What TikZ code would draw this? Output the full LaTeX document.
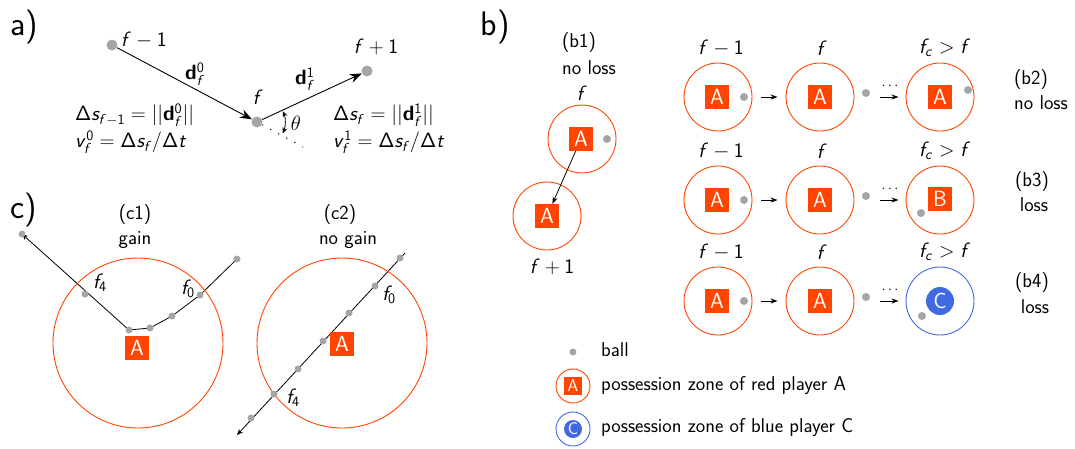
\documentclass[tikz,border=0pt]{standalone}
\usetikzlibrary{arrows.meta,backgrounds}
\DeclareMathAlphabet{\mathsfsl}{OT1}{cmss}{m}{sl}
\DeclareMathAlphabet{\mathsfbx}{OT1}{cmss}{bx}{n}
\DeclareMathAlphabet{\mathsfup}{OT1}{cmss}{m}{n}
\newcommand{\ff}{\mathsfsl{f}}
\newcommand{\nm}[1]{\mathsfup{#1}}
\definecolor{pred}{RGB}{255,69,0}
\definecolor{pblue}{RGB}{65,105,225}
\definecolor{ballgray}{RGB}{165,165,165}
\begin{document}
\begin{tikzpicture}[x=1pt,y=-1pt,
  every node/.style={font=\sffamily\fontsize{20}{24}\selectfont, inner sep=0pt},
  panel/.style={font=\sffamily\fontsize{34}{36}\selectfont},
  bigdot/.style={circle, fill=ballgray, minimum size=11pt},
  ball/.style={circle, fill=ballgray, minimum size=8pt},
  cdot/.style={circle, fill=ballgray, minimum size=7pt},
  zone/.style={circle, draw=pred, line width=0.9pt, minimum size=68pt},
  czone/.style={circle, draw=pred, line width=0.9pt, minimum size=170pt},
  bzone/.style={circle, draw=pblue, line width=0.9pt, minimum size=68pt},
  playerA/.style={fill=pred, text=white, minimum size=24pt, font=\sffamily\fontsize{22}{22}\selectfont},
  smallA/.style={fill=pred, text=white, minimum size=18pt, font=\sffamily\fontsize{17}{17}\selectfont},
  playerC/.style={circle, fill=pblue, text=white, minimum size=28pt, font=\sffamily\fontsize{22}{22}\selectfont},
  smallC/.style={circle, fill=pblue, text=white, minimum size=18pt, font=\sffamily\fontsize{17}{17}\selectfont},
  lzone/.style={circle, draw=#1, line width=0.9pt, minimum size=34pt},
  bigarrow/.style={line width=0.9pt, -{Stealth[length=12pt,width=9pt]}},
  smallarrow/.style={line width=0.9pt, -{Stealth[length=7pt,width=5pt]}},
  carrow/.style={line width=0.8pt, -{Stealth[length=6pt,width=5pt]}},
  dots/.style={font=\sffamily\fontsize{14}{14}\selectfont}
]
\useasboundingbox (0,0) rectangle (1075,448);

% ---------------- panel a
\node[panel] (la) at (24,27) {a)};
\node[bigdot] (a0) at (112,45) {};
\node[bigdot] (a1) at (257,122) {};
\node[bigdot] (a2) at (367,71) {};
\coordinate (aext) at (303,147);
\node[anchor=west] (la0) at (121,40) {$\ff-\nm{1}$};
\node (la1) at (258,97) {$\ff$};
\node (la2) at (376,47) {$\ff+\nm{1}$};
\node (ld0) at (195,74) {$\mathsfbx{d}_{\ff}^{\nm{0}}$};
\node (ld1) at (305,79) {$\mathsfbx{d}_{\ff}^{\nm{1}}$};
\draw[bigarrow] (a0) -- (a1);
\draw[bigarrow] (a1) -- (a2);
\draw[line width=1pt, dash pattern=on 1.2pt off 8pt] (a1) -- (aext);
\draw[line width=0.8pt, {Stealth[length=6pt,width=5pt]}-{Stealth[length=6pt,width=5pt]}] (a1.center) ++(-23:28) arc[start angle=-23, end angle=24, radius=28];
\node (ltheta) at (296,123) {$\theta$};
\node[anchor=west] (ls0) at (75,115) {$\nm{\Delta}\mathsfsl{s}_{\ff-\nm{1}} = ||\mathsfbx{d}_{\ff}^{\nm{0}}||$};
\node[anchor=west] (lv0) at (75,142) {$\mathsfsl{v}_{\ff}^{\nm{0}} = \nm{\Delta}\mathsfsl{s}_{\ff}/\nm{\Delta}\mathsfsl{t}$};
\node[anchor=west] (ls1) at (333,115) {$\nm{\Delta}\mathsfsl{s}_{\ff} = ||\mathsfbx{d}_{\ff}^{\nm{1}}||$};
\node[anchor=west] (lv1) at (333,142) {$\mathsfsl{v}_{\ff}^{\nm{1}} = \nm{\Delta}\mathsfsl{s}_{\ff}/\nm{\Delta}\mathsfsl{t}$};

% ---------------- panel b
\node[panel] (lb) at (495,27) {b)};
% b1
\node (b1t) at (579,43) {(b1)};
\node (b1n) at (589,68) {no loss};
\node (b1f) at (582,93) {$\ff$};
\node[zone] (zb1u) at (582,139) {};
\node[playerA] (pb1u) at (581,139) {A};
\node[ball] (bb1) at (607,139) {};
\node[zone] (zb1l) at (547,216) {};
\node[playerA] (pb1l) at (547,216) {A};
\node (b1g) at (552,267) {$\ff+\nm{1}$};
\draw[line width=0.8pt, -{Stealth[length=7pt,width=5pt]}] (pb1u) -- (pb1l);

% rows b2, b3, b4
\foreach \r/\y in {2/97, 3/200, 4/301}{
  \node (lr\r a) at (721,\y-49) {$\ff-\nm{1}$};
  \node (lr\r b) at (822,\y-49) {$\ff$};
  \node (lr\r c) at (945,\y-49) {$\ff_{\mathsfsl{c}}>\ff$};
  \node[zone] (zr\r a) at (718,\y) {};
  \node[zone] (zr\r b) at (820,\y) {};
  \node[playerA] (pr\r a) at (717,\y) {A};
  \node[playerA] (pr\r b) at (820,\y) {A};
  \node[ball] (br\r a) at (744,\y) {};
  \node[ball] (br\r b) at (866,\y-4) {};
  \node[dots] (dr\r) at (890,\y-11) {$\cdots$};
}
% third zones
\node[zone] (zr2c) at (940,97) {};
\node[playerA] (pr2c) at (940,97) {A};
\node[ball] (br2c) at (968,90) {};
\node[zone] (zr3c) at (940,200) {};
\node[playerA] (pr3c) at (940,199) {B};
\node[ball] (br3c) at (921,213) {};
\node[bzone] (zr4c) at (940,301) {};
\node[playerC] (pr4c) at (940,301) {C};
\node[ball] (br4c) at (922,316) {};
\foreach \r in {2,3,4}{
  \draw[smallarrow, shorten <=9pt, shorten >=8pt] (zr\r a) -- (zr\r b);
  \draw[smallarrow, shorten <=26pt, shorten >=7pt] (zr\r b) -- (zr\r c);
}
\node (b2t) at (1031,80) {(b2)};
\node (b2n) at (1041,103) {no loss};
\node (b3t) at (1032,182) {(b3)};
\node (b3n) at (1034,205) {loss};
\node (b4t) at (1032,283) {(b4)};
\node (b4n) at (1035,307) {loss};

% legend
\node[cdot] (lgb) at (573,352) {};
\node[anchor=west] (lgbt) at (601,350) {ball};
\node[lzone=pred] (lgza) at (573,386) {};
\node[smallA] (lgpa) at (573,386) {A};
\node[anchor=west] (lgat) at (601,385) {possession zone of red player A};
\node[lzone=pblue] (lgzc) at (573,429) {};
\node[smallC] (lgpc) at (573,429) {C};
\node[anchor=west] (lgct) at (601,427) {possession zone of blue player C};

% ---------------- panel c
\node[panel] (lc) at (24,210) {c)};
\node (c1t) at (135,215) {(c1)};
\node (c1n) at (135,240) {gain};
\node (c2t) at (340,215) {(c2)};
\node (c2n) at (348,240) {no gain};
% c1
\node[czone] (zc1) at (138,343) {};
\node[playerA] (pc1) at (137,348) {A};
\node[cdot] (k0) at (237,259) {};
\node[cdot] (k1) at (200,295) {};
\node[cdot] (k2) at (172,316) {};
\node[cdot] (k3) at (150,328) {};
\node[cdot] (k4) at (129,330) {};
\node[cdot] (k5) at (85,294) {};
\node[cdot] (k6) at (22,234) {};
\begin{scope}[on background layer]
  \draw[line width=0.8pt] (k0.center) -- (k1.center) -- (k2.center) -- (k3.center) -- (k4.center);
  \draw[carrow] (k4.center) -- (k6.center);
\end{scope}
\node (lf4a) at (100,283) {$\ff_{\nm{4}}$};
\node (lf0a) at (188,289) {$\ff_{\nm{0}}$};
% c2
\node[czone] (zc2) at (342,343) {};
\node[playerA] (pc2) at (342,344) {A};
\coordinate (m0) at (405,253);
\coordinate (m8) at (237,435);
\node[cdot] (m1) at (400,258) {};
\node[cdot] (m2) at (375,286) {};
\node[cdot] (m3) at (349,313) {};
\node[cdot] (m4) at (323,341) {};
\node[cdot] (m5) at (298,369) {};
\node[cdot] (m6) at (274,394) {};
\node[cdot] (m7) at (251,418) {};
\begin{scope}[on background layer]
  \draw[carrow] (m0) -- (m8);
\end{scope}
\node (lf0b) at (389,295) {$\ff_{\nm{0}}$};
\node (lf4b) at (293,398) {$\ff_{\nm{4}}$};
\end{tikzpicture}
\end{document}
